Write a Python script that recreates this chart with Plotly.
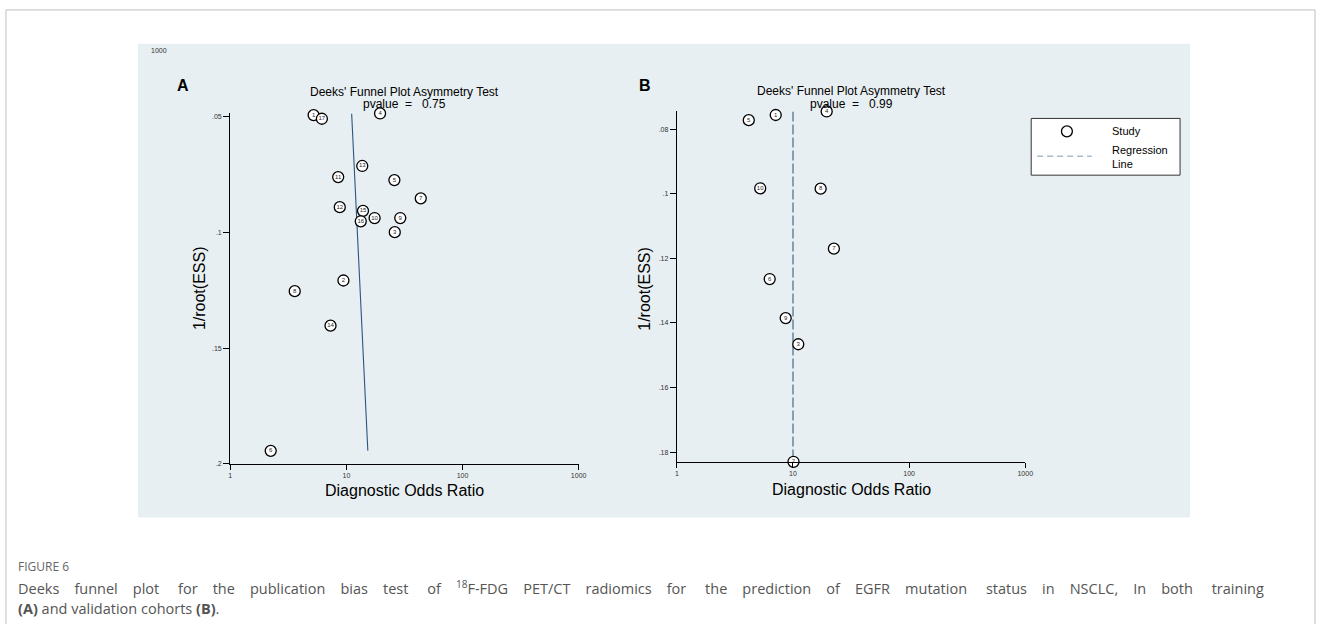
import plotly.graph_objects as go

# ---------------- data ----------------
# Panel A (training cohort)
a_study = ["1", "17", "4", "13", "11", "5", "7", "12", "15", "16", "10", "9", "3", "2", "8", "14", "6"]
a_dor = [5.22, 6.15, 19.5, 13.7, 8.5, 25.9, 43.7, 8.77, 13.9, 13.3, 17.5, 29.1, 26.1, 9.43, 3.59, 7.3, 2.23]
a_inv_root_ess = [0.0493, 0.0509, 0.0486, 0.0713, 0.0761, 0.0774, 0.0853, 0.0891, 0.0907, 0.0952,
                  0.0938, 0.0938, 0.0999, 0.1208, 0.1254, 0.1403, 0.1944]
a_reg_dor = [11.1, 15.3]
a_reg_inv = [0.0486, 0.1944]
a_pvalue = "0.75"

# Panel B (validation cohort)
b_study = ["1", "5", "4", "10", "8", "7", "6", "9", "3", "2"]
b_dor = [7.1, 4.16, 19.5, 5.22, 17.3, 22.5, 6.3, 8.65, 11.1, 10.1]
b_inv_root_ess = [0.0756, 0.0772, 0.0745, 0.0983, 0.0984, 0.117, 0.1264, 0.1385, 0.1466, 0.183]
b_reg_dor = [10.0, 10.0]
b_reg_inv = [0.0745, 0.183]
b_pvalue = "0.99"

x_tickvals = [1, 10, 100, 1000]
x_ticktext = ["1", "10", "100", "1000"]
a_y_tickvals = [0.05, 0.1, 0.15, 0.2]
a_y_ticktext = [".05", ".1", ".15", ".2"]
b_y_tickvals = [0.08, 0.1, 0.12, 0.14, 0.16, 0.18]
b_y_ticktext = [".08", ".1", ".12", ".14", ".16", ".18"]

caption_line1_words = ["Deeks", "funnel", "plot", "for", "the", "publication", "bias", "test", "of",
                       "<sup>18</sup>F-FDG", "PET/CT", "radiomics", "for", "the", "prediction", "of", "EGFR",
                       "mutation", "status", "in", "NSCLC,", "In", "both", "training"]
caption_line2 = "<b>(A)</b> and validation cohorts <b>(B)</b>."

# ---------------- layout helpers ----------------
W, H = 1328, 627
def px(x):
    return x / W
def py(y):
    return 1 - y / H

FONT = "Liberation Sans, Arial, sans-serif"
BG = "#e8eff2"
GRID = "#e9f0f3"

fig = go.Figure()

marker_style = dict(symbol="circle", size=11, color="white", line=dict(color="black", width=1.3))

# Panel A
fig.add_trace(go.Scatter(x=a_reg_dor, y=a_reg_inv, mode="lines", xaxis="x", yaxis="y",
                         line=dict(color="#2b5683", width=1.1), showlegend=False, hoverinfo="skip"))
fig.add_trace(go.Scatter(x=a_dor, y=a_inv_root_ess, mode="markers+text", text=a_study,
                         textposition="middle center", textfont=dict(size=6, color="#222", family=FONT),
                         marker=marker_style, xaxis="x", yaxis="y", showlegend=False, cliponaxis=False))

# Panel B
fig.add_trace(go.Scatter(x=b_reg_dor, y=b_reg_inv, mode="lines", xaxis="x2", yaxis="y2",
                         line=dict(color="#46688b", width=1.2, dash="10px,3px"), showlegend=False,
                         hoverinfo="skip"))
fig.add_trace(go.Scatter(x=b_dor, y=b_inv_root_ess, mode="markers+text", text=b_study,
                         textposition="middle center", textfont=dict(size=6, color="#222", family=FONT),
                         marker=marker_style, xaxis="x2", yaxis="y2", showlegend=False, cliponaxis=False))

xaxis_common = dict(type="log", range=[0, 3], tickmode="array", tickvals=x_tickvals, ticktext=x_ticktext,
                    ticks="outside", ticklen=5, tickwidth=1, tickcolor="black", showline=True,
                    linecolor="black", linewidth=1.2, showgrid=False, zeroline=False,
                    tickfont=dict(size=7, color="#333", family=FONT), fixedrange=True)
yaxis_common = dict(ticks="outside", ticklen=6, tickwidth=1, tickcolor="black", showline=True,
                    linecolor="black", linewidth=1.2, showgrid=True, gridcolor=GRID, gridwidth=2,
                    zeroline=False, tickfont=dict(size=7, color="#333", family=FONT), fixedrange=True,
                    tickmode="array")

fig.update_layout(
    width=W, height=H, margin=dict(l=0, r=0, t=0, b=0),
    paper_bgcolor="white", plot_bgcolor="white", showlegend=False,
    font=dict(family=FONT),
    xaxis=dict(xaxis_common, domain=[px(230), px(581)], anchor="y"),
    yaxis=dict(yaxis_common, domain=[py(466), py(114)], anchor="x", range=[0.2, 0.0486],
               tickvals=a_y_tickvals, ticktext=a_y_ticktext),
    xaxis2=dict(xaxis_common, domain=[px(680), px(1031)], anchor="y2"),
    yaxis2=dict(yaxis_common, domain=[py(464), py(112)], anchor="x2", range=[0.183, 0.0745],
                tickvals=b_y_tickvals, ticktext=b_y_ticktext),
)

shapes = []
# outer frame
shapes.append(dict(type="line", xref="paper", yref="paper", x0=px(4), x1=px(1323), y0=py(10), y1=py(10),
                   line=dict(color="#bfbfbf", width=1)))
shapes.append(dict(type="line", xref="paper", yref="paper", x0=px(4), x1=px(4), y0=py(10), y1=py(627),
                   line=dict(color="#bfbfbf", width=1)))
shapes.append(dict(type="line", xref="paper", yref="paper", x0=px(1323), x1=px(1323), y0=py(10), y1=py(627),
                   line=dict(color="#bfbfbf", width=1)))
# gray graph region
shapes.append(dict(type="rect", xref="paper", yref="paper", x0=px(137), x1=px(1197), y0=py(520), y1=py(44),
                   fillcolor=BG, line=dict(width=0), layer="below"))
# legend box
shapes.append(dict(type="rect", xref="paper", yref="paper", x0=px(1037), x1=px(1187), y0=py(176), y1=py(119),
                   fillcolor="white", line=dict(color="#333", width=1)))
shapes.append(dict(type="circle", xref="paper", yref="paper", x0=px(1067.5), x1=px(1078.5), y0=py(137.5),
                   y1=py(126.5), fillcolor="white", line=dict(color="black", width=1.3)))
shapes.append(dict(type="line", xref="paper", yref="paper", x0=px(1043), x1=px(1098), y0=py(157), y1=py(157),
                   line=dict(color="#a9bccb", width=1.5, dash="6px,4px")))
fig.update_layout(shapes=shapes)

nb = "\u00a0"
ann = []
def txt(x, y, s, size, xanchor="center", color="black", bold=False, family=FONT, textangle=0):
    ann.append(dict(x=px(x), y=py(y), xref="paper", yref="paper", text=("<b>%s</b>" % s) if bold else s,
                    showarrow=False, xanchor=xanchor, yanchor="middle", textangle=textangle,
                    font=dict(size=size, color=color, family=family)))

txt(148, 51, "1000", 7, xanchor="left", color="#333")
txt(174, 86, "A", 16, xanchor="left", bold=True)
txt(640, 86, "B", 16, xanchor="left", bold=True)
txt(405.5, 92, "Deeks' Funnel Plot Asymmetry Test", 12)
txt(405.5, 105, "pvalue" + nb * 2 + "=" + nb * 3 + a_pvalue, 12)
txt(855.5, 91, "Deeks' Funnel Plot Asymmetry Test", 12)
txt(855.5, 104, "pvalue" + nb * 2 + "=" + nb * 3 + b_pvalue, 12)
txt(199, 290, "1/root(ESS)", 16, textangle=-90)
txt(647, 290, "1/root(ESS)", 16, textangle=-90)
txt(405.5, 493, "Diagnostic Odds Ratio", 16)
txt(855.5, 492, "Diagnostic Odds Ratio", 16)
# legend text
txt(1116, 132, "Study", 11, xanchor="left")
ann.append(dict(x=px(1116), y=py(158), xref="paper", yref="paper", text="Regression<br>Line",
                showarrow=False, xanchor="left", yanchor="middle", align="left",
                font=dict(size=11, color="black", family=FONT)))
# caption (line 1 is justified in the reference: widen the word gaps)
CAP = "Open Sans, Lato, sans-serif"
txt(14, 569, "FIGURE 6", 12, xanchor="left", color="#666", family=CAP)
justified = caption_line1_words[0]
for i, w in enumerate(caption_line1_words[1:]):
    justified += (nb * 5 if i % 5 == 2 else nb * 4) + w
txt(14, 590, justified, 14.5, xanchor="left", color="#555", family=CAP)
txt(14, 611, caption_line2, 14.5, xanchor="left", color="#555", family=CAP)
fig.update_layout(annotations=ann)

fig.write_html("out.html")
